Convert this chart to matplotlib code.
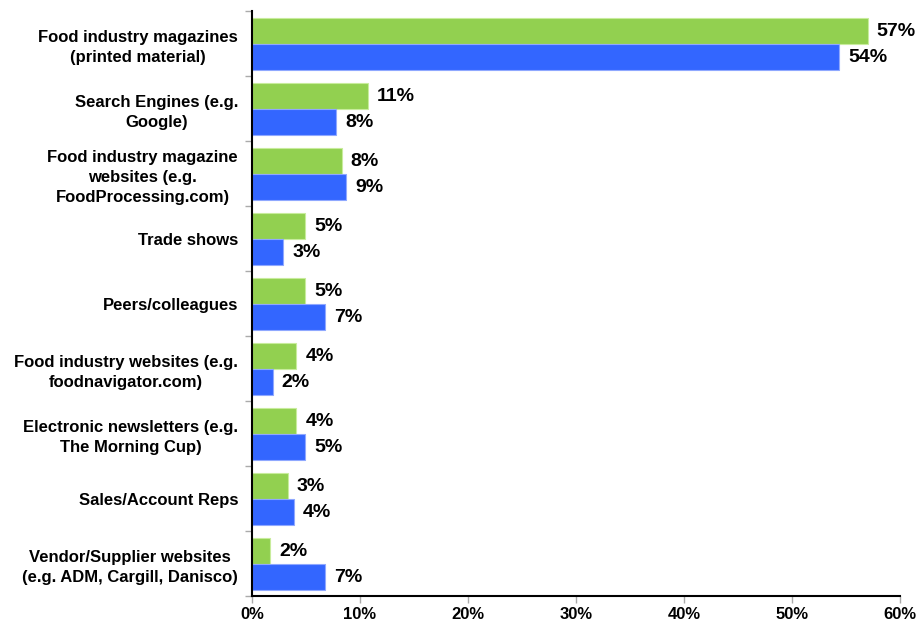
import numpy as np
import matplotlib.pyplot as plt
from matplotlib.ticker import FixedLocator, PercentFormatter

plt.rcParams['font.family'] = ['Liberation Sans', 'DejaVu Sans']
plt.rcParams['font.weight'] = 'bold'

# Information sources (top to bottom)
sources = [
    'Food industry magazines\n(printed material)',
    'Search Engines (e.g.\nGoogle)',
    'Food industry magazine\nwebsites (e.g.\nFoodProcessing.com)',
    'Trade shows',
    'Peers/colleagues',
    'Food industry websites (e.g.\nfoodnavigator.com)',
    'Electronic newsletters (e.g.\nThe Morning Cup)',
    'Sales/Account Reps',
    'Vendor/Supplier websites\n(e.g. ADM, Cargill, Danisco)',
]
green_vals = [57.0, 10.7, 8.3, 4.9, 4.9, 4.1, 4.1, 3.3, 1.7]
blue_vals = [54.4, 7.8, 8.7, 2.9, 6.8, 1.9, 4.9, 3.9, 6.8]

green = '#92D050'
blue = '#3366FF'

fig = plt.figure(figsize=(9.19, 6.23), dpi=100)
ax = fig.add_axes([0.2742, 0.0433, 0.7051, 0.9390])

y = np.arange(len(sources))
h = 0.4
ax.barh(y - h / 2, green_vals, height=h, color=green, edgecolor='#c8ec9c', linewidth=0.8)
ax.barh(y + h / 2, blue_vals, height=h, color=blue, edgecolor='#8fa8ff', linewidth=0.8)

for yi, g, b in zip(y, green_vals, blue_vals):
    ax.annotate(f'{g:.0f}%', (g, yi - h / 2), xytext=(9, -1), textcoords='offset pixels',
                va='center', ha='left', fontsize=14, fontweight='bold')
    ax.annotate(f'{b:.0f}%', (b, yi + h / 2), xytext=(9, -1), textcoords='offset pixels',
                va='center', ha='left', fontsize=14, fontweight='bold')

ax.set_xlim(0, 60)
ax.set_ylim(len(sources) - 0.5, -0.5)
ax.set_xticks(np.arange(0, 61, 10))
ax.xaxis.set_major_formatter(PercentFormatter(decimals=0))

ax.set_yticks(y)
ax.set_yticklabels(sources, multialignment='center', linespacing=1.4)
ax.yaxis.set_minor_locator(FixedLocator(np.arange(-0.5, len(sources), 1)))
ax.tick_params(axis='y', which='major', length=0, pad=10, labelsize=12)
ax.tick_params(axis='y', which='minor', length=5, color='#aaaaaa', width=1)
ax.tick_params(axis='x', which='major', length=5, color='#aaaaaa', width=1, pad=3, labelsize=12)

for side in ['top', 'right']:
    ax.spines[side].set_visible(False)
for side in ['left', 'bottom']:
    ax.spines[side].set_linewidth(1.5)
    ax.spines[side].set_color('black')

fig.savefig('out.png', dpi=100)
